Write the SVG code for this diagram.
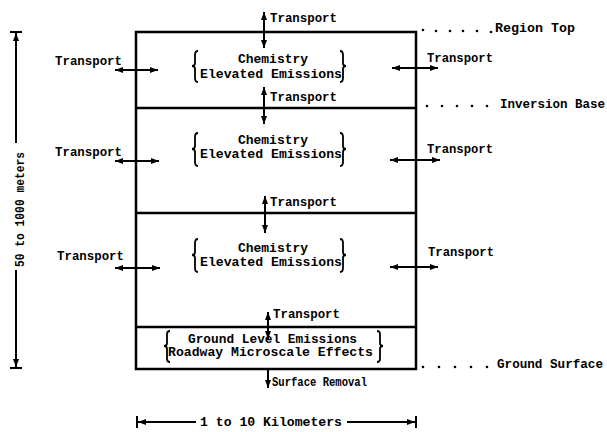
<svg xmlns="http://www.w3.org/2000/svg" width="607" height="432" viewBox="0 0 607 432">
<defs>
<style>
text{font-family:"Liberation Mono","DejaVu Sans Mono",monospace;font-weight:bold;font-size:12px;fill:#000}
.ln{stroke:#000;stroke-width:2;fill:none}
.box{stroke:#000;stroke-width:2.5;fill:none}
.br{stroke:#000;stroke-width:1.8;fill:none}
.dot{fill:#000}
</style>
<marker id="ah" viewBox="0 0 8 6" refX="8" refY="3" markerWidth="8" markerHeight="6" markerUnits="userSpaceOnUse" orient="auto-start-reverse"><path d="M0,0 L8,3 L0,6 z" fill="#000"/></marker>
</defs>
<rect width="607" height="432" fill="#fff"/>

<g id="region">
<rect class="box" x="136" y="32" width="280" height="337"/>
<line class="box" x1="136" y1="108" x2="416" y2="108"/>
<line class="box" x1="136" y1="213" x2="416" y2="213"/>
<line class="box" x1="136" y1="327" x2="416" y2="327"/>
</g>

<g id="layer1">
<path class="br" d="M198,51 Q195,51 195,55 L195,63 Q195,66 192,66 Q195,66 195,69 L195,78 Q195,82 198,82"/>
<path class="br" d="M340,51 Q343,51 343,55 L343,63 Q343,66 346,66 Q343,66 343,69 L343,78 Q343,82 340,82"/>
<text x="238" y="63" textLength="70" lengthAdjust="spacingAndGlyphs">Chemistry</text>
<text x="200" y="78" textLength="142" lengthAdjust="spacingAndGlyphs">Elevated Emissions</text>
</g>

<g id="layer2">
<path class="br" d="M198,133 Q195,133 195,137 L195,146 Q195,149 192,149 Q195,149 195,152 L195,162 Q195,166 198,166"/>
<path class="br" d="M340,133 Q343,133 343,137 L343,146 Q343,149 346,149 Q343,149 343,152 L343,162 Q343,166 340,166"/>
<text x="238" y="144" textLength="70" lengthAdjust="spacingAndGlyphs">Chemistry</text>
<text x="200" y="158" textLength="142" lengthAdjust="spacingAndGlyphs">Elevated Emissions</text>
</g>

<g id="layer3">
<path class="br" d="M198,239 Q195,239 195,243 L195,252 Q195,255 192,255 Q195,255 195,258 L195,268 Q195,272 198,272"/>
<path class="br" d="M340,239 Q343,239 343,243 L343,252 Q343,255 346,255 Q343,255 343,258 L343,268 Q343,272 340,272"/>
<text x="238" y="252" textLength="70" lengthAdjust="spacingAndGlyphs">Chemistry</text>
<text x="200" y="266" textLength="142" lengthAdjust="spacingAndGlyphs">Elevated Emissions</text>
</g>

<g id="ground-layer">
<path class="br" d="M170,331 Q167,331 167,334 L167,343 Q167,346 164,346 Q167,346 167,349 L167,359 Q167,362 170,362"/>
<path class="br" d="M377,331 Q380,331 380,334 L380,343 Q380,346 383,346 Q380,346 380,349 L380,359 Q380,362 377,362"/>
<text x="188" y="343" textLength="169" lengthAdjust="spacingAndGlyphs">Ground Level Emissions</text>
<text x="168" y="356" textLength="205" lengthAdjust="spacingAndGlyphs">Roadway Microscale Effects</text>
</g>

<g id="connectors">
<line class="ln" x1="264" y1="12" x2="264" y2="48" marker-start="url(#ah)" marker-end="url(#ah)"/>
<line class="ln" x1="264" y1="87" x2="264" y2="124" marker-start="url(#ah)" marker-end="url(#ah)"/>
<line class="ln" x1="265" y1="196" x2="265" y2="233" marker-start="url(#ah)" marker-end="url(#ah)"/>
<line class="ln" x1="268" y1="312" x2="268" y2="339" marker-start="url(#ah)" marker-end="url(#ah)"/>
<line class="ln" x1="268" y1="369" x2="268" y2="388" marker-end="url(#ah)"/>
<line class="ln" x1="115" y1="70" x2="158" y2="70" marker-start="url(#ah)" marker-end="url(#ah)"/>
<line class="ln" x1="115" y1="161" x2="159" y2="161" marker-start="url(#ah)" marker-end="url(#ah)"/>
<line class="ln" x1="115" y1="268" x2="160" y2="268" marker-start="url(#ah)" marker-end="url(#ah)"/>
<line class="ln" x1="392" y1="68" x2="438" y2="68" marker-start="url(#ah)" marker-end="url(#ah)"/>
<line class="ln" x1="390" y1="160" x2="440" y2="160" marker-start="url(#ah)" marker-end="url(#ah)"/>
<line class="ln" x1="390" y1="267" x2="438" y2="267" marker-start="url(#ah)" marker-end="url(#ah)"/>
</g>

<g id="transport-labels">
<text x="270" y="22" textLength="67" lengthAdjust="spacingAndGlyphs">Transport</text>
<text x="270" y="101" textLength="67" lengthAdjust="spacingAndGlyphs">Transport</text>
<text x="270" y="206" textLength="67" lengthAdjust="spacingAndGlyphs">Transport</text>
<text x="273" y="318" textLength="67" lengthAdjust="spacingAndGlyphs">Transport</text>
<text x="272" y="386" textLength="95" lengthAdjust="spacingAndGlyphs">Surface Removal</text>
<text x="55" y="65" textLength="67" lengthAdjust="spacingAndGlyphs">Transport</text>
<text x="55" y="156" textLength="67" lengthAdjust="spacingAndGlyphs">Transport</text>
<text x="57" y="260" textLength="67" lengthAdjust="spacingAndGlyphs">Transport</text>
<text x="427" y="62" textLength="66" lengthAdjust="spacingAndGlyphs">Transport</text>
<text x="427" y="153" textLength="66" lengthAdjust="spacingAndGlyphs">Transport</text>
<text x="428" y="256" textLength="66" lengthAdjust="spacingAndGlyphs">Transport</text>
</g>

<g id="level-labels">
<g class="dot">
<circle cx="423" cy="30" r="1.3"/><circle cx="436" cy="31" r="1.3"/><circle cx="450" cy="31" r="1.3"/><circle cx="463" cy="31" r="1.3"/><circle cx="477" cy="31" r="1.3"/><circle cx="491" cy="32" r="1.3"/>
<circle cx="427" cy="106" r="1.3"/><circle cx="442" cy="106" r="1.3"/><circle cx="457" cy="106" r="1.3"/><circle cx="472" cy="106" r="1.3"/><circle cx="487" cy="106" r="1.3"/>
<circle cx="423" cy="367" r="1.3"/><circle cx="439" cy="367" r="1.3"/><circle cx="455" cy="367" r="1.3"/><circle cx="471" cy="367" r="1.3"/><circle cx="487" cy="367" r="1.3"/>
</g>
<text x="495" y="32" textLength="80" lengthAdjust="spacingAndGlyphs">Region Top</text>
<text x="500" y="108" textLength="105" lengthAdjust="spacingAndGlyphs">Inversion Base</text>
<text x="497" y="368" textLength="106" lengthAdjust="spacingAndGlyphs">Ground Surface</text>
</g>

<g id="height-dimension">
<line class="ln" x1="10" y1="32" x2="22" y2="32"/>
<line class="ln" x1="10" y1="368" x2="22" y2="368"/>
<line class="ln" x1="16" y1="143" x2="16" y2="33" marker-end="url(#ah)"/>
<line class="ln" x1="16" y1="270" x2="16" y2="367" marker-end="url(#ah)"/>
<text transform="translate(24,267) rotate(-90)" textLength="115" lengthAdjust="spacingAndGlyphs">50 to 1000 meters</text>
</g>

<g id="width-dimension">
<line class="ln" x1="137" y1="416" x2="137" y2="428"/>
<line class="ln" x1="416" y1="416" x2="416" y2="428"/>
<line class="ln" x1="196" y1="422" x2="138" y2="422" marker-end="url(#ah)"/>
<line class="ln" x1="347" y1="422" x2="415" y2="422" marker-end="url(#ah)"/>
<text x="200" y="426" textLength="142" lengthAdjust="spacingAndGlyphs">1 to 10 Kilometers</text>
</g>
</svg>
